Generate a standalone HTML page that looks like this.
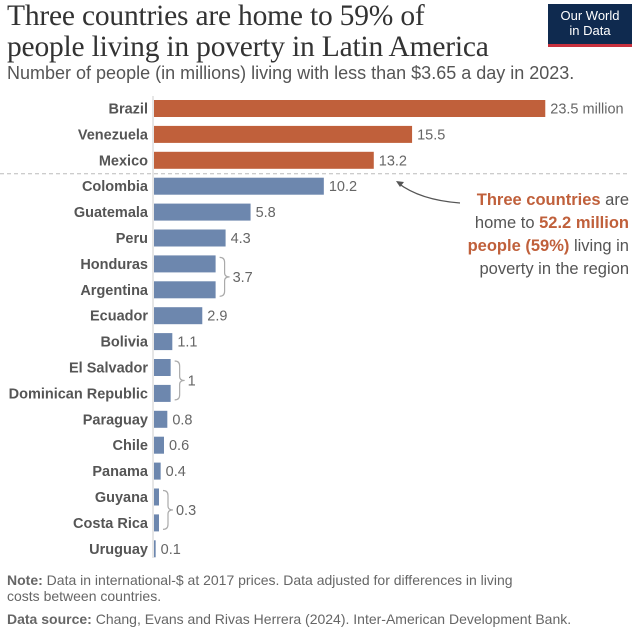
<!DOCTYPE html>
<html><head><meta charset="utf-8">
<style>
body{margin:0;background:#fff;width:640px;height:631px;overflow:hidden;font-family:"Liberation Sans",sans-serif;}
#title{position:absolute;left:7px;top:1px;font-family:"Liberation Serif",serif;font-size:29.5px;line-height:31px;color:#333;letter-spacing:-0.2px;white-space:nowrap;}
#sub{position:absolute;left:7px;top:63px;font-size:18px;color:#555;white-space:nowrap;}
#logo{position:absolute;left:548px;top:4px;width:84px;height:43px;background:#0f2a4f;border-bottom:3px solid #c8313e;color:#fff;font-size:13px;line-height:15px;text-align:center;padding-top:4px;box-sizing:border-box;}
.note{position:absolute;left:7px;font-size:14px;color:#666;line-height:16px;white-space:nowrap;}
</style></head><body>
<div id="title">Three countries are home to 59% of<br>people living in poverty in Latin America</div>
<div id="sub">Number of people (in millions) living with less than $3.65 a day in 2023.</div>
<div id="logo">Our World<br>in Data</div>
<svg id="chart" width="640" height="631" style="position:absolute;left:0;top:0"></svg>
<div class="note" style="top:572px"><b>Note:</b> Data in international-$ at 2017 prices. Data adjusted for differences in living<br>costs between countries.</div>
<div class="note" style="top:611px"><b>Data source:</b> Chang, Evans and Rivas Herrera (2024). Inter-American Development Bank.</div>
<script>
const countries=["Brazil","Venezuela","Mexico","Colombia","Guatemala","Peru","Honduras","Argentina","Ecuador","Bolivia","El Salvador","Dominican Republic","Paraguay","Chile","Panama","Guyana","Costa Rica","Uruguay"];
const values=[23.5,15.5,13.2,10.2,5.8,4.3,3.7,3.7,2.9,1.1,1,1,0.8,0.6,0.4,0.3,0.3,0.1];
const labels=["23.5 million","15.5","13.2","10.2","5.8","4.3","","","2.9","1.1","","","0.8","0.6","0.4","","","0.1"];
const groups=[[6,7,"3.7"],[10,11,"1"],[15,16,"0.3"]];
const highlighted=3;
const NS="http://www.w3.org/2000/svg";
const svg=document.getElementById('chart');
const x0=154,k=16.65,top0=100,step=25.9,bh=17;
const X=v=>x0+v*k, Y=i=>top0+i*step;
function mk(t,a){const e=document.createElementNS(NS,t);for(const n in a)e.setAttribute(n,a[n]);svg.appendChild(e);return e;}
const ax=mk('line',{x1:153,x2:153,y1:96,y2:558,stroke:'#ddd','stroke-width':1.5});


countries.forEach((c,i)=>{
 const r=mk('rect',{x:x0,y:Y(i),width:Math.max(values[i]*k,1.5),height:bh,fill:i<highlighted?'#c0603b':'#6d87ae'});
 
 
 const t=mk('text',{x:148,y:Y(i)+bh/2+5,'text-anchor':'end','font-size':14.5,'font-weight':'bold',fill:'#555'});
 t.textContent=c;
 
 
 if(labels[i]){const v=mk('text',{x:X(values[i])+5,y:Y(i)+bh/2+5,'font-size':14.5,fill:'#666'});
 v.textContent=labels[i];
 
 }
});
groups.forEach(g=>{
 const a=g[0],b=g[1],xv=X(values[a])+4,ya=Y(a)+2,yb=Y(b)+bh-2,ym=(ya+yb)/2;
 const p=mk('path',{d:`M${xv},${ya} q5,0 5,5 v${ym-ya-9} q0,4 5,4 q-5,0 -5,4 v${yb-ym-9} q0,5 -5,5`,fill:'none',stroke:'#aaa','stroke-width':1.2});
 
 
 const t=mk('text',{x:xv+13,y:ym+5,'font-size':14.5,fill:'#666'});
 t.textContent=g[2];
 
 
});
const d=mk('line',{x1:0,x2:630,y1:Y(highlighted)-4,y2:Y(highlighted)-4,stroke:'#bbb','stroke-dasharray':'4,3'});


const ar=mk('path',{d:'M460,203 Q420,200 398,183',fill:'none',stroke:'#555','stroke-width':1.3});


const ah=mk('path',{d:'M396,181 l8,1 l-4,5 z',fill:'#555'});


const ann=[['<tspan fill="#c0603b" font-weight="bold">Three countries</tspan> are',205],['home to <tspan fill="#c0603b" font-weight="bold">52.2 million</tspan>',228],['<tspan fill="#c0603b" font-weight="bold">people (59%)</tspan> living in',251],['poverty in the region',274]];
ann.forEach(a=>{const t=mk('text',{x:629,y:a[1],'text-anchor':'end','font-size':16.5,fill:'#555'});t.innerHTML=a[0];
 
 });
</script>
</body></html>
